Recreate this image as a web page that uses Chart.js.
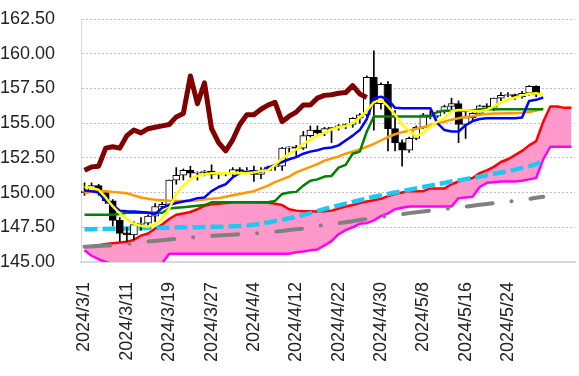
<!DOCTYPE html>
<html lang="ja">
<head>
<meta charset="UTF-8">
<title>USD/JPY</title>
<script src="https://cdn.jsdelivr.net/npm/chart.js"></script>
<style>
  html, body { margin: 0; padding: 0; background: #fff; }
  #wrap { width: 579px; height: 376px; }
</style>
</head>
<body>
<div id="wrap"><canvas id="chart"></canvas></div>
<script>
// category axis: trading days, then empty slots for the shifted cloud
const dates = [
  '2024/3/1',
  '2024/3/4', '2024/3/5', '2024/3/6', '2024/3/7', '2024/3/8',
  '2024/3/11', '2024/3/12', '2024/3/13', '2024/3/14', '2024/3/15',
  '2024/3/18', '2024/3/19', '2024/3/20', '2024/3/21', '2024/3/22',
  '2024/3/25', '2024/3/26', '2024/3/27', '2024/3/28', '2024/3/29',
  '2024/4/1', '2024/4/2', '2024/4/3', '2024/4/4', '2024/4/5',
  '2024/4/8', '2024/4/9', '2024/4/10', '2024/4/11', '2024/4/12',
  '2024/4/15', '2024/4/16', '2024/4/17', '2024/4/18', '2024/4/19',
  '2024/4/22', '2024/4/23', '2024/4/24', '2024/4/25', '2024/4/26',
  '2024/4/29', '2024/4/30', '2024/5/1', '2024/5/2', '2024/5/3',
  '2024/5/6', '2024/5/7', '2024/5/8', '2024/5/9', '2024/5/10',
  '2024/5/13', '2024/5/14', '2024/5/15', '2024/5/16', '2024/5/17',
  '2024/5/20', '2024/5/21', '2024/5/22', '2024/5/23', '2024/5/24',
  '2024/5/27', '2024/5/28', '2024/5/29', '2024/5/30', '2024/5/31',
  '', '', '', ''
];

// candles
const opens = [150.0, 150.1, 150.5, 150.0, 149.4, 148.0, 147.1, 146.95, 147.7, 147.8,
  148.3, 149.0, 149.15, 150.9, 151.25, 151.6, 151.4, 151.45, 151.55, 151.3,
  151.35, 151.35, 151.65, 151.55, 151.6, 151.3, 151.6, 151.85, 151.9, 153.2,
  153.3, 153.2, 154.1, 154.5, 154.3, 154.6, 154.7, 154.8, 154.9, 155.35,
  155.6, 158.3, 156.4, 157.8, 154.6, 153.6, 153.05, 153.9, 154.7, 155.6,
  155.5, 155.8, 156.2, 156.4, 154.9, 155.4, 155.7, 156.25, 156.15, 156.8,
  157.0, 157.05, 156.9, 157.15, 157.65];
const highs = [150.7, 150.7, 150.6, 150.1, 149.5, 148.2, 147.5, 147.9, 148.2, 148.4,
  149.2, 149.3, 150.9, 151.8, 151.7, 151.9, 151.5, 151.6, 152.0, 151.45,
  151.45, 151.8, 151.8, 151.8, 151.9, 151.8, 151.9, 151.95, 153.25, 153.3,
  153.4, 154.4, 154.8, 154.8, 154.7, 154.7, 154.9, 154.95, 155.4, 155.7,
  158.4, 160.2, 157.9, 158.0, 155.9, 153.8, 154.0, 154.8, 155.7, 155.9,
  155.9, 156.3, 156.8, 156.6, 155.9, 155.9, 156.3, 156.4, 156.8, 157.2,
  157.2, 157.1, 157.3, 157.7, 157.7];
const lows = [149.8, 150.0, 149.8, 149.2, 147.6, 146.5, 146.5, 146.6, 147.3, 147.6,
  147.9, 148.9, 149.1, 150.6, 150.9, 151.1, 150.9, 151.2, 151.0, 151.0,
  151.2, 151.2, 151.5, 151.5, 150.8, 151.0, 151.6, 151.6, 151.6, 152.8,
  152.6, 153.1, 154.0, 154.2, 154.1, 153.6, 154.5, 154.6, 154.7, 155.0,
  155.4, 154.5, 156.0, 153.0, 153.0, 151.9, 152.9, 153.8, 154.6, 155.3,
  155.4, 155.7, 156.0, 153.6, 153.9, 155.2, 155.6, 155.9, 155.9, 156.6,
  156.9, 156.7, 156.8, 157.0, 156.9];
const closes = [150.1, 150.5, 150.0, 149.4, 148.0, 147.05, 146.95, 147.7, 147.8, 148.3,
  149.0, 149.15, 150.9, 151.25, 151.6, 151.4, 151.45, 151.55, 151.3, 151.35,
  151.35, 151.65, 151.55, 151.6, 151.3, 151.6, 151.85, 151.9, 153.2, 153.3,
  153.2, 154.1, 154.5, 154.3, 154.6, 154.7, 154.8, 154.9, 155.35, 155.6,
  158.3, 156.4, 157.8, 154.6, 153.6, 153.05, 153.9, 154.7, 155.6, 155.5,
  155.8, 156.2, 156.4, 154.9, 155.4, 155.7, 156.25, 156.15, 156.8, 157.0,
  157.05, 156.9, 157.15, 157.65, 157.05];

// lagging span (dark red)
const chikou = [151.6, 151.85, 151.9, 153.2, 153.3, 153.2, 154.1, 154.5, 154.3, 154.6,
  154.7, 154.8, 154.9, 155.45, 155.7, 158.4, 156.4, 157.9, 154.6, 153.6,
  153.0, 153.8, 154.9, 155.6, 155.6, 156.0, 156.3, 156.5, 155.1, 155.5,
  155.8, 156.3, 156.3, 156.8, 157.0, 157.05, 157.15, 157.2, 157.7, 157.1,
  156.85];

// conversion line (blue)
const tenkan = [150.15, 150.1, 150.0, 149.4, 149.1, 148.7, 148.65, 148.63, 148.6, 148.55,
  148.45, 148.9, 149.1, 149.25, 149.35, 149.45, 149.6, 149.65, 150.1, 150.4,
  150.6, 151.1, 151.4, 151.5, 151.5, 151.5, 151.8, 152.0, 152.2, 152.4,
  152.55, 152.8, 152.95, 153.05, 153.2, 153.25, 153.4, 153.75, 154.1, 154.5,
  155.3, 156.8, 156.9, 156.7, 156.1, 156.08, 156.08, 156.08, 156.08, 156.08,
  155.0, 154.5, 154.4, 154.4, 154.85, 155.15, 155.3, 155.36, 155.36, 155.36,
  155.36, 155.36, 155.4, 156.6, 156.68, 156.85];

// base line (green)
const kijun = [148.4, 148.4, 148.4, 148.4, 148.4, 148.45, 148.55, 148.55, 148.55, 148.55,
  148.55, 148.55, 148.85, 148.9, 148.95, 149.0, 149.05, 149.1, 149.3, 149.3,
  149.3, 149.3, 149.3, 149.3, 149.3, 149.3, 149.3, 149.4, 149.9, 150.0,
  150.05, 150.5, 150.85, 150.95, 151.15, 151.2, 151.8, 152.0, 152.8, 152.95,
  154.4, 155.48, 155.48, 155.48, 155.48, 155.48, 155.48, 155.48, 155.48, 155.48,
  155.8, 155.9, 155.9, 155.9, 155.9, 155.9, 156.0, 156.0, 156.0, 156.0,
  156.0, 156.0, 156.0, 156.0, 156.0, 156.0];

// short moving average (yellow)
const maShort = [150.42, 150.33, 150.2, 149.65, 149.0, 148.5, 148.1, 147.75, 147.6, 147.56,
  147.7, 148.1, 148.85, 149.9, 150.5, 150.95, 151.2, 151.3, 151.4, 151.4,
  151.4, 151.4, 151.4, 151.4, 151.45, 151.55, 151.6, 152.0, 152.45, 152.8,
  153.1, 153.5, 153.8, 154.1, 154.3, 154.55, 154.7, 154.8, 155.0, 155.4,
  155.9, 156.5, 156.7, 156.2, 155.6, 154.9, 154.45, 154.05, 154.3, 154.75,
  155.1, 155.35, 155.85, 155.95, 155.95, 155.85, 155.85, 155.95, 156.2, 156.5,
  156.7, 156.85, 157.0, 157.1, 157.15, 157.05];

// medium moving average (orange)
const maMid = [149.95, 150.05, 150.1, 150.1, 150.05, 150.0, 149.95, 149.8, 149.65, 149.55,
  149.48, 149.45, 149.42, 149.4, 149.4, 149.4, 149.45, 149.5, 149.55, 149.6,
  149.7, 149.8, 149.9, 150.0, 150.1, 150.3, 150.5, 150.75, 150.95, 151.15,
  151.45, 151.65, 151.85, 152.05, 152.3, 152.45, 152.6, 152.8, 152.95, 153.1,
  153.3, 153.5, 153.75, 154.0, 154.2, 154.35, 154.45, 154.6, 154.7, 154.85,
  155.0, 155.1, 155.25, 155.35, 155.45, 155.5, 155.6, 155.65, 155.7, 155.7,
  155.72, 155.72, 155.75, 155.8, 155.9, 156.05];

// long moving average (cyan dashed)
const maLong = [147.35, 147.36, 147.37, 147.38, 147.39, 147.4, 147.41, 147.42, 147.43, 147.44,
  147.45, 147.46, 147.47, 147.48, 147.49, 147.5, 147.51, 147.52, 147.53, 147.54,
  147.55, 147.57, 147.59, 147.62, 147.68, 147.76, 147.85, 147.95, 148.05, 148.15,
  148.25, 148.38, 148.52, 148.67, 148.82, 148.95, 149.08, 149.2, 149.33, 149.45,
  149.57, 149.7, 149.8, 149.9, 150.0, 150.1, 150.2, 150.3, 150.4, 150.5,
  150.6, 150.7, 150.8, 150.88, 150.97, 151.06, 151.15, 151.25, 151.35, 151.45,
  151.55, 151.65, 151.78, 151.9, 152.05, 152.35];

// very long moving average (gray dash-dot)
const maVeryLong = [146.1, 146.12, 146.15, 146.18, 146.2, 146.25, 146.3, 146.36, 146.42, 146.47,
  146.52, 146.57, 146.62, 146.67, 146.72, 146.76, 146.8, 146.84, 146.88, 146.91,
  146.94, 146.97, 147.0, 147.03, 147.06, 147.09, 147.14, 147.19, 147.24, 147.3,
  147.36, 147.41, 147.48, 147.58, 147.67, 147.73, 147.79, 147.86, 147.94, 148.02,
  148.1, 148.17, 148.24, 148.31, 148.38, 148.45, 148.52, 148.58, 148.64, 148.7,
  148.76, 148.82, 148.87, 148.93, 148.98, 149.05, 149.12, 149.18, 149.24, 149.29,
  149.34, 149.4, 149.47, 149.55, 149.62, 149.7];

// leading span A (red) and B (magenta), shifted ahead
const spanA = [146.1, 146.15, 146.2, 146.3, 146.35, 146.4, 146.45, 146.6, 146.9, 147.05,
  147.4, 147.7, 148.1, 148.4, 148.5, 148.6, 148.8, 149.05, 149.15, 149.2,
  149.25, 149.3, 149.3, 149.3, 149.3, 149.28, 149.28, 149.2, 149.1, 148.8,
  148.7, 148.65, 148.65, 148.63, 148.65, 148.7, 148.85, 149.0, 149.1, 149.25,
  149.35, 149.45, 149.55, 149.75, 149.9, 150.0, 150.1, 150.1, 150.1, 150.3,
  150.3, 150.3, 150.6, 150.8, 150.95, 151.05, 151.4, 151.6, 151.85, 152.2,
  152.4, 152.7, 153.0, 153.4, 153.7, 155.1, 156.2, 156.2, 156.1, 156.1];
const spanB = [145.85, 145.45, 145.2, 145.0, 144.85, 144.85, 144.85, 144.85, 144.85, 144.85,
  144.85, 144.9, 145.6, 145.6, 145.6, 145.6, 145.6, 145.6, 145.6, 145.6,
  145.6, 145.6, 145.6, 145.6, 145.6, 145.6, 145.6, 145.6, 145.6, 145.6,
  145.7, 145.75, 145.85, 145.9, 146.2, 146.5, 147.0, 147.3, 147.5, 147.75,
  147.8, 148.0, 148.3, 148.5, 148.8, 148.9, 149.0, 149.0, 149.0, 149.0,
  149.0, 149.0, 149.0, 149.6, 149.65, 149.7, 150.4, 150.7, 150.75, 150.8,
  150.8, 150.8, 150.85, 150.95, 151.05, 152.4, 153.3, 153.3, 153.3, 153.3];

const font = { family: '"Liberation Sans", Arial, sans-serif', size: 18 };

function line(data, color, width, order, extra) {
  return Object.assign({
    type: 'line',
    data: data,
    borderColor: color,
    borderWidth: width,
    pointRadius: 0,
    tension: 0,
    fill: false,
    borderJoinStyle: 'round',
    order: order
  }, extra || {});
}

const config = {
  data: {
    labels: dates,
    datasets: [
      line(spanA, '#FF0000', 2.5, 30, { fill: { target: 1 }, backgroundColor: '#FF99CC' }),
      line(spanB, '#FF00FF', 2.5, 29),
      line(maVeryLong, '#808080', 4, 28, { borderDash: [26, 19, 0.1, 19], borderCapStyle: 'round' }),
      line(maLong, '#1EC8F0', 4.5, 27, { borderDash: [13, 5] }),
      {
        type: 'bar',
        data: lows.map((l, i) => [l, highs[i]]),
        backgroundColor: '#000',
        barThickness: 1,
        grouped: false,
        order: 26
      },
      {
        type: 'bar',
        data: opens.map((o, i) => [o, closes[i]]),
        backgroundColor: opens.map((o, i) => closes[i] >= o ? '#FFFFFF' : '#000000'),
        borderColor: '#000',
        borderWidth: 1,
        borderSkipped: false,
        barThickness: 7,
        grouped: false,
        order: 25
      },
      line(maMid, '#FF9900', 2.5, 24),
      line(kijun, '#008000', 2.5, 23),
      line(tenkan, '#0000FF', 2.5, 22),
      line(maShort, '#FFFF00', 2.5, 21),
      line(chikou, '#800000', 5, 20)
    ]
  },
  options: {
    responsive: true,
    maintainAspectRatio: false,
    animation: false,
    layout: { padding: { top: 19, right: 4, left: 0, bottom: 0 } },
    plugins: {
      legend: { display: false },
      tooltip: { enabled: false }
    },
    scales: {
      x: {
        type: 'category',
        offset: true,
        grid: { display: false },
        border: { display: true, color: '#D9D9D9', width: 2 },
        ticks: {
          autoSkip: false,
          minRotation: 90,
          maxRotation: 90,
          padding: 12,
          color: '#222',
          font: font,
          callback: (v, i) => (i % 6 === 0 ? dates[i] : '')
        },
        afterFit: s => { s.height = 114; s.paddingLeft = 0; s.paddingRight = 0; }
      },
      y: {
        min: 145,
        max: 162.5,
        grid: { color: '#BFBFBF', drawTicks: false },
        border: { display: true, color: '#D9D9D9', width: 1, dash: [2, 2] },
        ticks: {
          stepSize: 2.5,
          padding: 26,
          color: '#222',
          font: font,
          callback: v => v.toFixed(2)
        },
        afterFit: s => { s.width = 81; s.paddingTop = 0; s.paddingBottom = 0; }
      }
    }
  }
};

var myChart = new Chart(document.getElementById('chart'), config);
</script>
</body>
</html>
